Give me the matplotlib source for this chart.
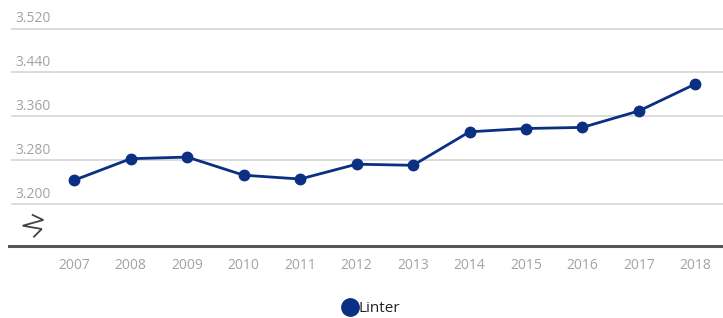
import matplotlib
matplotlib.use("Agg")
import matplotlib.pyplot as plt
from matplotlib.lines import Line2D

# data
years = [2007, 2008, 2009, 2010, 2011, 2012, 2013, 2014, 2015, 2016, 2017, 2018]
linter = [3244, 3283, 3286, 3253, 3246, 3273, 3271, 3332, 3338, 3340, 3370, 3419]
yticks = [3200, 3280, 3360, 3440, 3520]
ytick_labels = ["3.200", "3.280", "3.360", "3.440", "3.520"]
series_name = "Linter"

navy = "#0b2f83"
W, H = 723, 318

plt.rcParams["font.family"] = ["Open Sans", "DejaVu Sans"]

fig = plt.figure(figsize=(W / 100, H / 100), dpi=100)
ax_bottom = 245.7
ax = fig.add_axes([0, 1 - ax_bottom / H, 1, ax_bottom / H])

ax.set_xlim(2005.684, 2018.49)
ax.set_ylim(3124.6, 3572)

for s in ax.spines.values():
    s.set_visible(False)

# gridlines + labels sitting above them
for v, lab in zip(yticks, ytick_labels):
    ax.axhline(v, xmin=12 / W, xmax=1, color="#d9d9d9", lw=1.3, zorder=1)
    ax.text(15 / W, v + 4.5, lab, transform=ax.get_yaxis_transform(),
            ha="left", va="bottom", fontsize=10, color="#a3a3a3")
ax.set_yticks([])

# baseline
ax.axhline(3124.6, xmin=9 / W, xmax=1, color="#555555", lw=2.2, clip_on=False, zorder=2)

# axis break mark
zx = [32.7, 43.3, 22.7, 41.7, 34.0]
zy = [215, 220, 225.7, 229, 236.7]
fig.add_artist(Line2D([x / W for x in zx], [1 - y / H for y in zy],
                      color="#444444", lw=1.3, solid_joinstyle="miter"))

ax.plot(years, linter, color=navy, lw=2.0, marker="o", markersize=7.5, zorder=3)

ax.set_xticks(years)
ax.set_xticklabels([str(y) for y in years], fontsize=10, color="#a3a3a3")
ax.tick_params(axis="x", length=0, pad=9)

handle = Line2D([], [], color=navy, marker="o", linestyle="none", markersize=12.5)
fig.legend([handle], [series_name], loc="center", bbox_to_anchor=(367 / W, 1 - 309 / H),
           frameon=False, fontsize=11, handletextpad=-0.45, borderpad=0,
           labelcolor="#222222")

fig.savefig("out.png", dpi=100)
